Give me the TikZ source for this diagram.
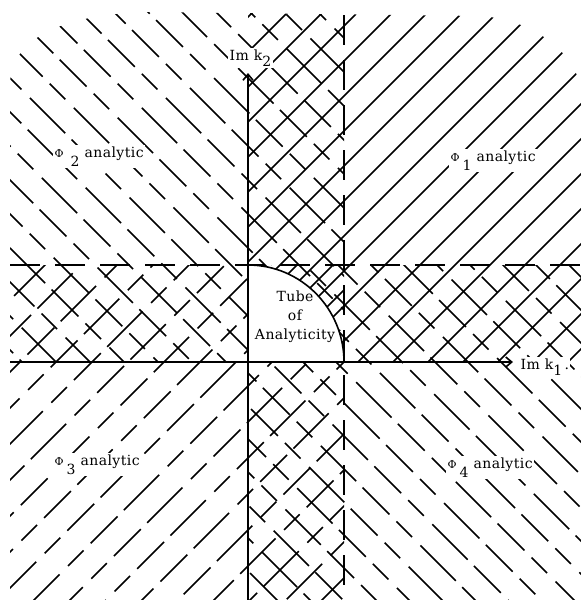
\documentclass[tikz,border=0pt]{standalone}
\usepackage{fontspec}
\newfontfamily\lbl[LetterSpace=3]{DejaVu Serif}
\usetikzlibrary{arrows.meta}
\tikzset{
  hatch/.style={line width=1.5pt, black},
  brk/.style={hatch, dash pattern=on 38pt off 10pt on 22pt off 12pt on 50pt off 9pt},
  axis/.style={line width=1.6pt, -{Straight Barb[length=6pt,width=10pt]}},
  dsh/.style={line width=1.6pt, dash pattern=on 30pt off 15pt},
  lab/.style={fill=white, inner sep=1.5pt, font=\lbl\fontsize{14}{16}\selectfont},
  tube/.style={inner sep=0pt, align=center, font=\lbl\fontsize{14}{19}\selectfont}
}
\newcommand{\phisym}{{\fontsize{11}{11}\selectfont Φ}}
\begin{document}
\begin{tikzpicture}[x=1pt,y=-1pt]
\useasboundingbox (0,0) rectangle (581,600);

\begin{scope}
\clip (10,600) -- (10,85) .. controls (10,40) and (60,14) .. (150,12) -- (480,16) .. controls (540,20) and (581,60) .. (581,95) -- (581,600) -- cycle;
% Phi1 region: "/" solid
\begin{scope}
\clip (248,0) rectangle (590,362);
\foreach \c in {20,55,...,1210} \draw[hatch] (\c+40,-40) -- (\c-700,700);
\end{scope}
% Phi2 region: "\" broken
\begin{scope}
\clip (0,0) rectangle (344,362);
\foreach \c in {-680,-646,...,420} {
  \pgfmathsetmacro\ph{mod(mod(abs(\c),141)*17,141)}
  \draw[brk, dash phase=\ph pt] (\c-40,-40) -- (\c+700,700);
}
\end{scope}
% Phi3 region: "/" broken
\begin{scope}
\clip (0,265) rectangle (344,610);
\foreach \c in {238,274,...,1000} {
  \pgfmathsetmacro\ph{mod(mod(abs(\c),141)*23,141)}
  \draw[brk, dash phase=\ph pt] (\c+40,-40) -- (\c-700,700);
}
\end{scope}
% Phi4 region: "\" broken
\begin{scope}
\clip (248,265) rectangle (590,610);
\foreach \c in {-653,-620,...,400} {
  \pgfmathsetmacro\ph{mod(mod(abs(\c),141)*29,141)}
  \draw[brk, dash phase=\ph pt] (\c-40,-40) -- (\c+700,700);
}
\end{scope}
\end{scope}

% tube of analyticity
\coordinate (O) at (248,362);
\coordinate (A) at (248,265);
\coordinate (B) at (344,362);
\fill[white] (O) -- (A) arc[start angle=-90, end angle=0, x radius=96, y radius=97] -- cycle;
\draw[line width=1.6pt] (A) arc[start angle=-90, end angle=0, x radius=96, y radius=97];

% dashed lines
\coordinate (VT) at (344,15);
\coordinate (VB) at (344,600);
\coordinate (HL) at (10,265);
\coordinate (HR) at (581,265);
\draw[dsh] (VT) -- (VB);
\draw[dsh] (HL) -- (HR);

% axes
\coordinate (YB) at (248,600);
\coordinate (YT) at (248,73);
\coordinate (XL) at (10,362);
\coordinate (XR) at (513,362);
\draw[axis] (YB) -- (YT);
\draw[axis] (XL) -- (XR);

% labels
\node[lab, anchor=base west] (ik2) at (228,60) {Im k\raisebox{-6pt}{2}};
\node[lab, anchor=base west] (ik1) at (519,369) {Im k\raisebox{-6pt}{1}\,.};
\node[lab, anchor=base west] (p2) at (53,157) {\phisym\hspace{7pt}\raisebox{-9pt}{2}\hspace{5pt}analytic};
\node[lab, anchor=base west] (p1) at (449,161) {\phisym\hspace{3pt}\raisebox{-9pt}{1}\hspace{5pt}analytic};
\node[lab, anchor=base west] (p3) at (53,465) {\phisym\hspace{3pt}\raisebox{-9pt}{3}\hspace{5pt}analytic};
\node[lab, anchor=base west] (p4) at (446,468) {\phisym\hspace{3pt}\raisebox{-9pt}{4}\hspace{5pt}analytic};
\node[tube] (t) at (295,317) {Tube\\of\\Analyticity};
\end{tikzpicture}
\end{document}
